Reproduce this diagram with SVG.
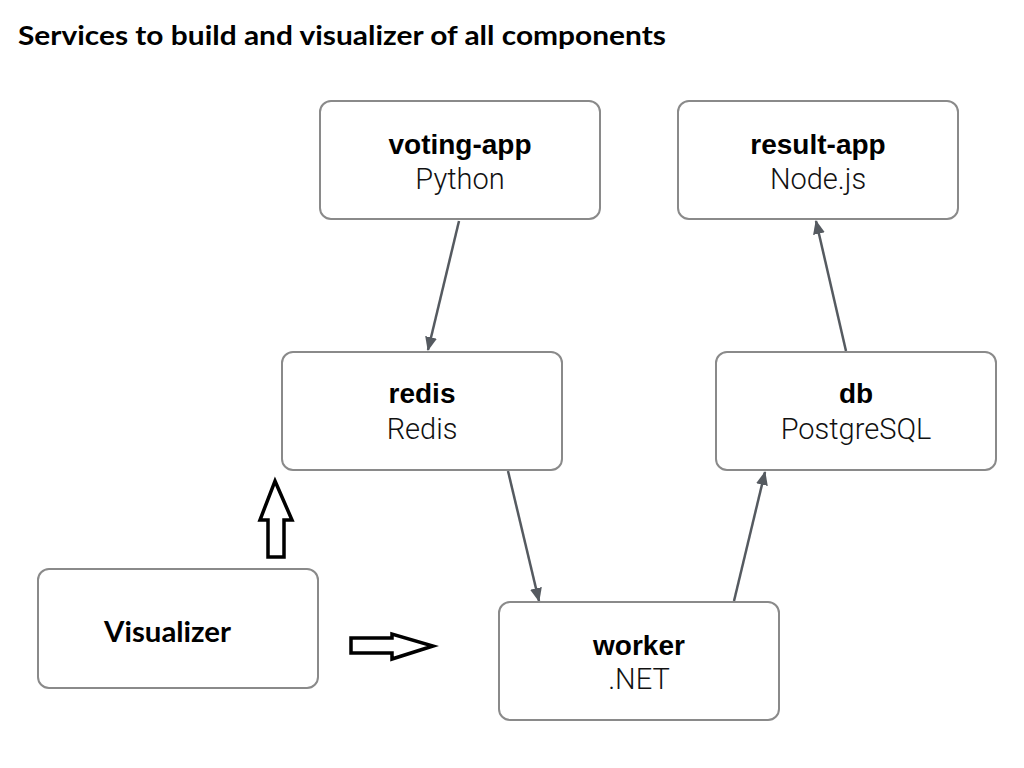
<svg xmlns="http://www.w3.org/2000/svg" width="1024" height="768" viewBox="0 0 1024 768">
<style>
.box{fill:#fff;stroke:#8a8a8a;stroke-width:2}
.t{font-family:"Liberation Sans",Arial,sans-serif;font-size:28px;text-anchor:middle;fill:#000}
.b{font-weight:bold}
.l{font-family:Roboto,"Liberation Sans",sans-serif;font-weight:300;font-size:29px;fill:#111}
.conn{stroke:#555a60;stroke-width:2.5;fill:none;marker-end:url(#ah)}
.blk{fill:#fff;stroke:#000;stroke-width:3.5;stroke-linejoin:miter}
</style>
<defs>
<marker id="ah" markerUnits="userSpaceOnUse" markerWidth="14" markerHeight="12" refX="13" refY="6" orient="auto">
<path d="M0,0 L14,6 L0,12 Z" fill="#555a60"/>
</marker>
</defs>
<rect width="1024" height="768" fill="#fff"/>
<text x="18" y="45" font-family="Lato,'Open Sans',sans-serif" font-weight="bold" font-size="26" textLength="648" lengthAdjust="spacingAndGlyphs" fill="#000">Services to build and visualizer of all components</text>
<g id="connectors">
<line class="conn" x1="459" y1="221" x2="428" y2="350"/>
<line class="conn" x1="508" y1="471" x2="539" y2="601"/>
<line class="conn" x1="734" y1="601" x2="765" y2="472"/>
<line class="conn" x1="846" y1="351" x2="816" y2="221"/>
<path class="blk" d="M275,481 L292,520 L284,520 L284,557 L268,557 L268,520 L260,520 Z"/>
<path class="blk" d="M351,638 L392,638 L392,634 L433,646 L392,659 L392,653 L351,653 Z"/>
</g>
<g id="voting-app">
<rect class="box" x="320" y="101" width="280" height="118" rx="11"/>
<text class="t b" x="460" y="154">voting-app</text>
<text class="t l" x="460" y="189">Python</text>
</g>
<g id="result-app">
<rect class="box" x="678" y="101" width="280" height="118" rx="11"/>
<text class="t b" x="818" y="154">result-app</text>
<text class="t l" x="818" y="189">Node.js</text>
</g>
<g id="redis">
<rect class="box" x="282" y="352" width="280" height="118" rx="11"/>
<text class="t b" x="422" y="403">redis</text>
<text class="t l" x="422" y="439">Redis</text>
</g>
<g id="db">
<rect class="box" x="716" y="352" width="280" height="118" rx="11"/>
<text class="t b" x="856" y="403">db</text>
<text class="t l" x="856" y="439">PostgreSQL</text>
</g>
<g id="worker">
<rect class="box" x="499" y="602" width="280" height="118" rx="11"/>
<text class="t b" x="639" y="655">worker</text>
<text class="t l" x="639" y="689">.NET</text>
</g>
<g id="visualizer">
<rect class="box" x="38" y="569" width="280" height="119" rx="11"/>
<text x="104" y="642" font-family="Lato,'Open Sans',sans-serif" font-weight="bold" font-size="28" textLength="127" lengthAdjust="spacingAndGlyphs" fill="#000">Visualizer</text>
</g>
</svg>
